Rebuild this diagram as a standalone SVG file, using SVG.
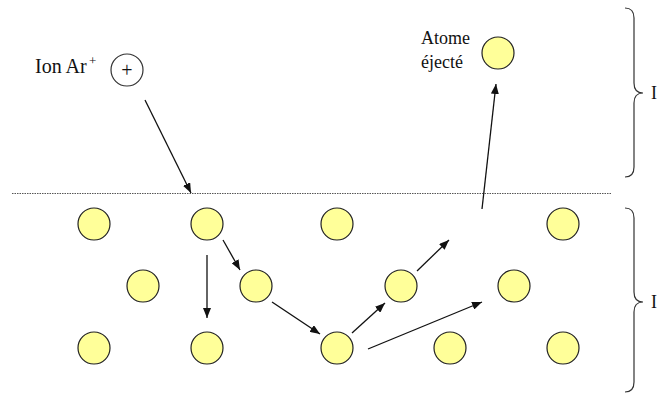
<svg xmlns="http://www.w3.org/2000/svg" width="664" height="397" viewBox="0 0 664 397">
<style>
.atom{fill:#FFFF99;stroke:#222;stroke-width:1.2}
.lbl{font-family:"Liberation Serif",serif;fill:#111}
.arr{stroke:#111;stroke-width:1.3;fill:none;marker-end:url(#ah)}
.brace{fill:none;stroke:#333;stroke-width:1.2}
</style>
<defs>
<marker id="ah" viewBox="0 0 10 8" refX="10" refY="4" markerWidth="10" markerHeight="8" markerUnits="userSpaceOnUse" orient="auto">
<path d="M0,0 L10,4 L0,8 Z" fill="#111"/>
</marker>
</defs>
<rect width="664" height="397" fill="#fff"/>
<line x1="12" y1="193.5" x2="611" y2="193.5" stroke="#555" stroke-width="1" stroke-dasharray="1.5,1"/>
<g id="ion">
<text class="lbl" x="35" y="73" font-size="20">Ion Ar</text>
<text class="lbl" x="89" y="65" font-size="13">+</text>
<circle cx="127" cy="70" r="16" fill="#fff" stroke="#333" stroke-width="1.2"/>
<text class="lbl" x="127" y="77" font-size="20" text-anchor="middle">+</text>
</g>
<g id="ejected">
<text class="lbl" x="421" y="44" font-size="18">Atome</text>
<text class="lbl" x="421" y="68" font-size="18">éjecté</text>
<circle class="atom" cx="498" cy="53" r="16"/>
</g>
<g id="atoms">
<circle class="atom" cx="94" cy="224" r="16"/>
<circle class="atom" cx="207" cy="224" r="16"/>
<circle class="atom" cx="337" cy="224" r="16"/>
<circle class="atom" cx="563" cy="224" r="16"/>
<circle class="atom" cx="143" cy="286" r="16"/>
<circle class="atom" cx="256" cy="286" r="16"/>
<circle class="atom" cx="401" cy="286" r="16"/>
<circle class="atom" cx="514" cy="286" r="16"/>
<circle class="atom" cx="94" cy="348" r="16"/>
<circle class="atom" cx="207" cy="348" r="16"/>
<circle class="atom" cx="337" cy="348" r="16"/>
<circle class="atom" cx="450" cy="348" r="16"/>
<circle class="atom" cx="563" cy="348" r="16"/>
</g>
<g id="connectors">
<line class="arr" x1="145" y1="100" x2="191" y2="193"/>
<line class="arr" x1="482" y1="209" x2="496" y2="84"/>
<line class="arr" x1="207" y1="255" x2="207" y2="318"/>
<line class="arr" x1="223" y1="240" x2="240" y2="270"/>
<line class="arr" x1="272" y1="302" x2="320" y2="334"/>
<line class="arr" x1="352" y1="333" x2="385" y2="303"/>
<line class="arr" x1="417" y1="271" x2="449" y2="240"/>
<line class="arr" x1="368" y1="349" x2="482" y2="302"/>
</g>
<g id="brace-top">
<path class="brace" d="M625,8 Q634,8 634,18 L634,83 Q634,93 643,93 Q634,93 634,103 L634,167 Q634,177 625,177"/>
<text class="lbl" x="651" y="99" font-size="18">I</text>
</g>
<g id="brace-bottom">
<path class="brace" d="M625,208 Q634,208 634,218 L634,292 Q634,302 643,302 Q634,302 634,312 L634,382 Q634,392 625,392"/>
<text class="lbl" x="651" y="308" font-size="18">I</text>
</g>
</svg>
